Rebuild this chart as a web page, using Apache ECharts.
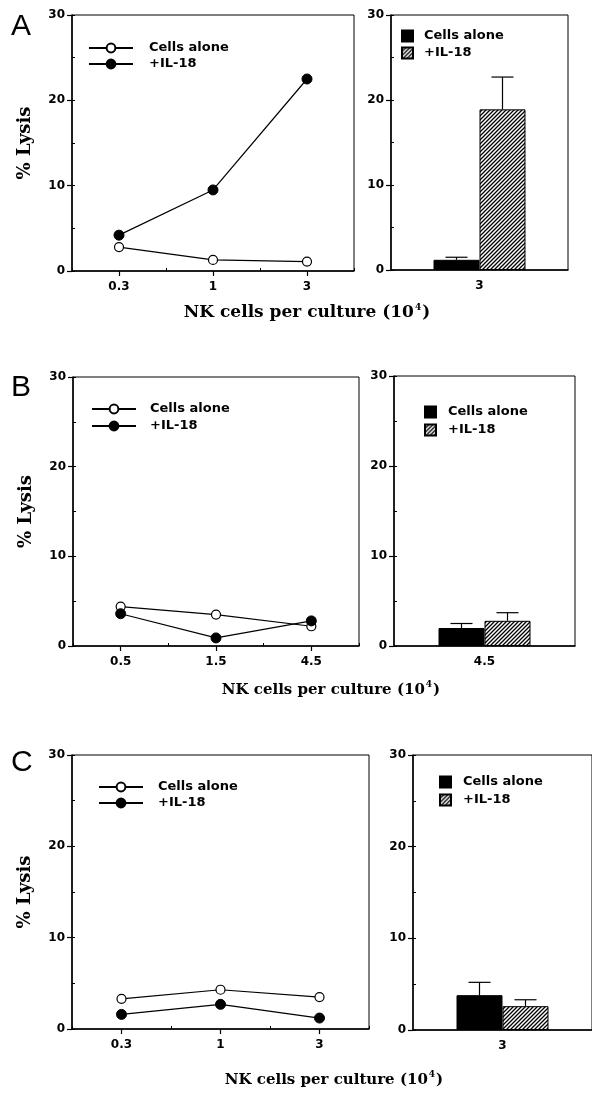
<!DOCTYPE html>
<html><head><meta charset="utf-8">
<script src="https://cdn.jsdelivr.net/npm/echarts@6/dist/echarts.min.js"></script>
<style>html,body{margin:0;padding:0;background:#fff}#chart{width:592px;height:1104px}</style>
</head><body><div id="chart"></div>
<script>
// ---------- data ----------
const yTicks = [0, 10, 20, 30];
const seriesNames = ['Cells alone', '+IL-18'];
const yTitle = '% Lysis';
const xTitle = 'NK cells per culture (10{sup|4})';

const catsA = ['0.3', '1', '3'];
const aloneA = [2.8, 1.3, 1.1];
const il18A = [4.2, 9.5, 22.5];
const barCatA = ['3'];
const barAloneA = [1.2];
const barAloneErrA = [0.3];
const barIl18A = [18.9];
const barIl18ErrA = [3.8];

const catsB = ['0.5', '1.5', '4.5'];
const aloneB = [4.4, 3.5, 2.2];
const il18B = [3.6, 0.9, 2.8];
const barCatB = ['4.5'];
const barAloneB = [2.0];
const barAloneErrB = [0.5];
const barIl18B = [2.8];
const barIl18ErrB = [0.9];

const catsC = ['0.3', '1', '3'];
const aloneC = [3.3, 4.3, 3.5];
const il18C = [1.6, 2.7, 1.2];
const barCatC = ['3'];
const barAloneC = [3.8];
const barAloneErrC = [1.4];
const barIl18C = [2.6];
const barIl18ErrC = [0.7];

// ---------- layout ----------
const SANS = "'DejaVu Sans', sans-serif";
const SERIF = "'DejaVu Serif', serif";
const BAR_W = 46, CAP_W = 22;

const panels = [
  {letter:'A', cats:catsA, alone:aloneA, il18:il18A, barCat:barCatA, bA:barAloneA, bAE:barAloneErrA, bI:barIl18A, bIE:barIl18ErrA,
   g1:{left:72, top:15, width:282, height:256}, g2:{left:391, top:15, width:177, height:255},
   letterPos:[11, 27], title:{x:307, y:313, size:17},
   leg1:{left:88, top:41, gap:2, pad:11}, leg2:{left:401, top:29, gap:3, pad:6}},
  {letter:'B', cats:catsB, alone:aloneB, il18:il18B, barCat:barCatB, bA:barAloneB, bAE:barAloneErrB, bI:barIl18B, bIE:barIl18ErrB,
   g1:{left:73, top:377, width:286, height:269}, g2:{left:394, top:376, width:181, height:270},
   letterPos:[11, 388], title:{x:331, y:690, size:15},
   leg1:{left:91, top:402, gap:3, pad:9}, leg2:{left:424, top:405, gap:4, pad:7}},
  {letter:'C', cats:catsC, alone:aloneC, il18:il18C, barCat:barCatC, bA:barAloneC, bAE:barAloneErrC, bI:barIl18C, bIE:barIl18ErrC,
   g1:{left:72, top:755, width:297, height:274}, g2:{left:413, top:755, width:183, height:275},
   letterPos:[11, 763], title:{x:334, y:1080, size:15},
   leg1:{left:98, top:780, gap:2, pad:10}, leg2:{left:439, top:775, gap:4, pad:7}}
];

function hatchCanvas() {
  const c = document.createElement('canvas');
  c.width = 4; c.height = 4;
  const ctx = c.getContext('2d');
  ctx.fillStyle = '#fff'; ctx.fillRect(0, 0, 4, 4);
  ctx.strokeStyle = '#000'; ctx.lineWidth = 1.3;
  ctx.beginPath();
  ctx.moveTo(-1, 5); ctx.lineTo(5, -1);
  ctx.moveTo(-1, 1); ctx.lineTo(1, -1);
  ctx.moveTo(3, 5); ctx.lineTo(5, 3);
  ctx.stroke();
  return c;
}
const HATCH = {image: hatchCanvas(), repeat: 'repeat'};

const yMin = yTicks[0], yMax = yTicks[yTicks.length - 1], yInt = yTicks[1] - yTicks[0];

const labelStyle = {color:'#000', fontFamily:SANS, fontWeight:'bold', fontSize:12};
function mainY(grid, withName) {
  return {
    type:'value', gridIndex:grid, position:'left', min:yMin, max:yMax, interval:yInt,
    axisLine:{show:true, lineStyle:{color:'#000', width:1.5}},
    axisTick:{show:true, length:5, lineStyle:{color:'#000', width:1.2}},
    axisLabel:Object.assign({margin:7}, labelStyle),
    splitLine:{show:false},
    name: withName ? yTitle : '', nameLocation:'middle', nameRotate:90, nameGap:38,
    nameTextStyle:{color:'#000', fontFamily:SERIF, fontWeight:'bold', fontSize:18}
  };
}
function minorY(grid) {
  return {
    type:'value', gridIndex:grid, position:'left', offset:0, min:yMin, max:yMax, interval:yInt / 2,
    axisLine:{show:false}, axisLabel:{show:false}, splitLine:{show:false},
    axisTick:{show:true, inside:true, length:3, lineStyle:{color:'#000', width:1}}
  };
}

function errRender(sign) {
  return function (params, api) {
    const i = api.value(0), v = api.value(1), t = api.value(2);
    const p0 = api.coord([i, v]), p1 = api.coord([i, t]);
    const cx = p0[0] + sign * BAR_W / 2;
    return {type:'group', children:[
      {type:'line', shape:{x1:cx, y1:p0[1], x2:cx, y2:p1[1]}, style:{stroke:'#000', lineWidth:1.2}},
      {type:'line', shape:{x1:cx - CAP_W / 2, y1:p1[1], x2:cx + CAP_W / 2, y2:p1[1]}, style:{stroke:'#000', lineWidth:1.2}}
    ]};
  };
}

const grid = [], xAxis = [], yAxis = [], series = [], legend = [], graphic = [];
panels.forEach((p, pi) => {
  const gL = grid.length;
  grid.push(Object.assign({show:true, borderColor:'#000', borderWidth:1, containLabel:false}, p.g1));
  const gB = grid.length;
  grid.push(Object.assign({show:true, borderColor:'#000', borderWidth:1, containLabel:false}, p.g2));

  // x axes
  const xL = xAxis.length;
  xAxis.push({type:'category', gridIndex:gL, position:'bottom', data:p.cats, boundaryGap:true,
    axisLine:{lineStyle:{color:'#000', width:1.5}},
    axisTick:{show:true, alignWithLabel:true, length:5, lineStyle:{color:'#000', width:1.2}},
    axisLabel:Object.assign({margin:10}, labelStyle)});
  xAxis.push({type:'category', gridIndex:gL, position:'bottom', offset:0, data:p.cats, boundaryGap:true,
    axisLine:{show:false}, axisLabel:{show:false},
    axisTick:{show:true, inside:true, length:3, lineStyle:{color:'#000', width:1}}});
  const xB = xAxis.length;
  xAxis.push({type:'category', gridIndex:gB, position:'bottom', data:p.barCat, boundaryGap:true,
    axisLine:{lineStyle:{color:'#000', width:1.5}},
    axisTick:{show:false},
    axisLabel:Object.assign({margin:10}, labelStyle)});

  // y axes
  const yL = yAxis.length;
  yAxis.push(mainY(gL, true));
  yAxis.push(minorY(gL));
  const yB = yAxis.length;
  yAxis.push(mainY(gB, false));
  yAxis.push(minorY(gB));

  // line series
  series.push({type:'line', name:seriesNames[0], xAxisIndex:xL, yAxisIndex:yL, data:p.alone,
    symbol:'circle', symbolSize:9, z:3,
    lineStyle:{color:'#000', width:1.2},
    itemStyle:{color:'#fff', borderColor:'#000', borderWidth:1.2}});
  series.push({type:'line', name:seriesNames[1], xAxisIndex:xL, yAxisIndex:yL, data:p.il18,
    symbol:'circle', symbolSize:10, z:4,
    lineStyle:{color:'#000', width:1.2},
    itemStyle:{color:'#000', borderColor:'#000', borderWidth:1}});

  // bar series
  series.push({type:'bar', name:seriesNames[0] + '#bar', xAxisIndex:xB, yAxisIndex:yB, data:p.bA,
    barWidth:BAR_W, barGap:'0%',
    itemStyle:{color:'#000', borderColor:'#000', borderWidth:1}});
  series.push({type:'bar', name:seriesNames[1] + '#bar', xAxisIndex:xB, yAxisIndex:yB, data:p.bI,
    barWidth:BAR_W, barGap:'0%',
    itemStyle:{color:HATCH, borderColor:'#000', borderWidth:1}});
  series.push({type:'custom', name:'errAlone', xAxisIndex:xB, yAxisIndex:yB, z:5,
    data:p.barCat.map((c, k) => [k, p.bA[k], p.bA[k] + p.bAE[k]]),
    renderItem:errRender(-1)});
  series.push({type:'custom', name:'errIl18', xAxisIndex:xB, yAxisIndex:yB, z:5,
    data:p.barCat.map((c, k) => [k, p.bI[k], p.bI[k] + p.bIE[k]]),
    renderItem:errRender(1)});

  // legends
  legend.push({orient:'vertical', left:p.leg1.left, top:p.leg1.top, padding:0, itemGap:p.leg1.gap,
    itemWidth:44, itemHeight:11, data:seriesNames.slice(), selectedMode:false,
    textStyle:{color:'#000', fontFamily:SANS, fontWeight:'bold', fontSize:13, lineHeight:14, padding:[0,0,0,p.leg1.pad]}});
  legend.push({orient:'vertical', left:p.leg2.left, top:p.leg2.top, padding:0, itemGap:p.leg2.gap,
    itemWidth:11, itemHeight:11, icon:'rect', selectedMode:false,
    data:seriesNames.map(n => n + '#bar'),
    formatter: n => n.replace('#bar', ''),
    textStyle:{color:'#000', fontFamily:SANS, fontWeight:'bold', fontSize:13, lineHeight:14, padding:[0,0,0,p.leg2.pad]}});

  // panel letter and x title
  graphic.push({type:'text', x:p.letterPos[0], y:p.letterPos[1],
    style:{text:p.letter, fontFamily:"'Liberation Sans', Arial, sans-serif", fontSize:30, fill:'#000', align:'left', verticalAlign:'middle'}});
  graphic.push({type:'text', x:p.title.x, y:p.title.y,
    style:{text:xTitle, fontFamily:SERIF, fontWeight:'bold', fontSize:p.title.size, lineHeight:20, fill:'#000',
      align:'center', verticalAlign:'middle',
      rich:{sup:{fontFamily:SERIF, fontWeight:'bold', fontSize:9, verticalAlign:'top', lineHeight:20, fill:'#000', padding:[0,1,0,1]}}}});
});

const chart = echarts.init(document.getElementById('chart'), null, {renderer:'canvas'});
chart.setOption({animation:false, backgroundColor:'#fff', grid, xAxis, yAxis, series, legend, graphic});
</script>
</body></html>
